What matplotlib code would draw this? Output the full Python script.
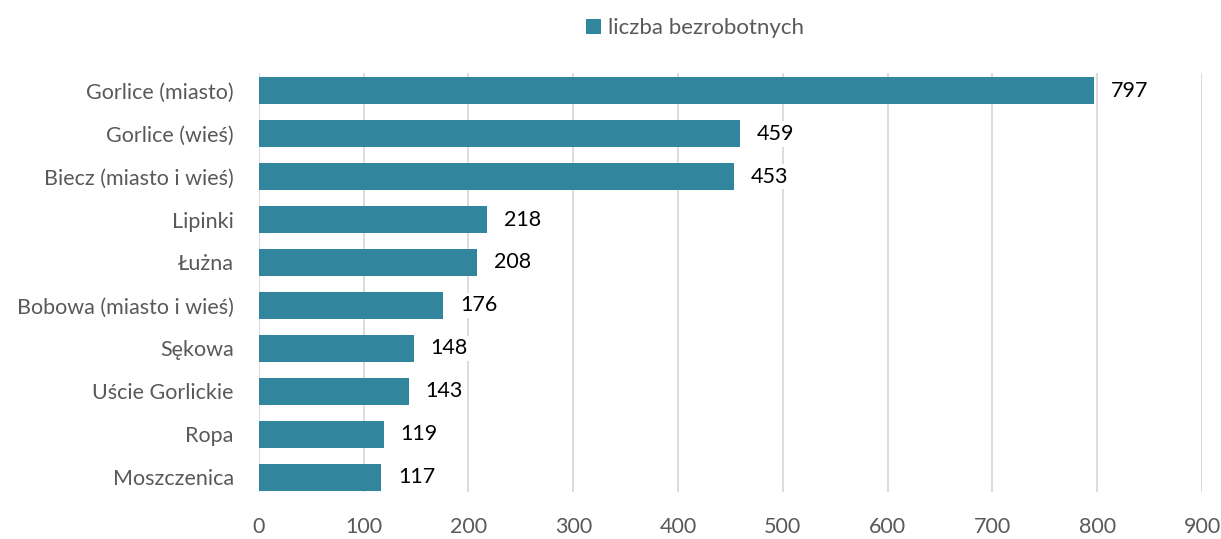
import matplotlib.pyplot as plt

gminy = ['Gorlice (miasto)', 'Gorlice (wieś)', 'Biecz (miasto i wieś)', 'Lipinki', 'Łużna',
         'Bobowa (miasto i wieś)', 'Sękowa', 'Uście Gorlickie', 'Ropa', 'Moszczenica']
bezrobotni = [797, 459, 453, 218, 208, 176, 148, 143, 119, 117]
xticks = [0, 100, 200, 300, 400, 500, 600, 700, 800, 900]

plt.rcParams['font.family'] = ['Lato', 'DejaVu Sans']

fig = plt.figure(figsize=(12.21, 5.39), dpi=100)
ax = fig.add_axes([0.212, 0.087, 0.7725, 0.778])

pos = list(range(len(gminy)))
ax.barh(pos, bezrobotni, height=0.63, color='#31859C', label='liczba bezrobotnych', zorder=2)

# value labels on white boxes, like in the original
for p, v in zip(pos, bezrobotni):
    ax.text(v + 16, p, str(v), va='center', ha='left', fontsize=15.5, color='black',
            bbox=dict(facecolor='white', edgecolor='none', pad=2), zorder=3)

ax.set_xlim(0, 900)
ax.set_ylim(9.35, -0.42)
ax.set_xticks(xticks)
ax.set_yticks(pos)
ax.set_yticklabels(gminy)
ax.tick_params(axis='both', length=0, labelsize=15.5, labelcolor='#595959')
ax.tick_params(axis='y', pad=18)
ax.tick_params(axis='x', pad=18)
ax.grid(axis='x', color='#D9D9D9', linewidth=1.3, zorder=0)
for s in ax.spines.values():
    s.set_visible(False)

ax.legend(loc='lower center', bbox_to_anchor=(0.462, 1.035), frameon=False, fontsize=16,
          handlelength=0.7, handleheight=0.7, handletextpad=0.3, labelcolor='#595959')

fig.savefig('out.png', dpi=100)
